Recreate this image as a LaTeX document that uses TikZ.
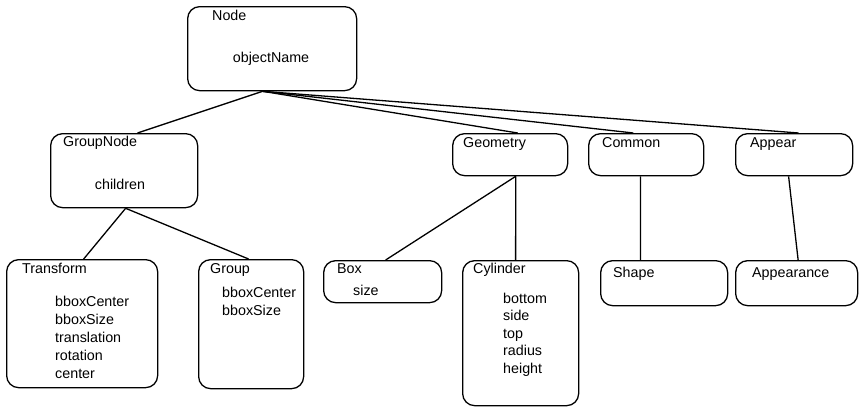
\documentclass[tikz,border=0pt]{standalone}
\usepackage{fontspec}
\setmainfont{Liberation Sans}
\usetikzlibrary{calc}
\tikzset{
  cls/.style={draw, line width=1.3pt, rounded corners=12pt, inner sep=0pt, anchor=north west},
  lbl/.style={inner sep=0pt, anchor=base west, font=\fontsize{14.3}{17}\selectfont},
  clbl/.style={inner sep=0pt, anchor=base, font=\fontsize{14.3}{17}\selectfont},
  link/.style={line width=1.3pt},
}
\begin{document}
\begin{tikzpicture}[x=1pt, y=-1pt]
\fill[white] (0,0) rectangle (859,407);
\useasboundingbox (0,0) rectangle (859,407);

% class boxes: top-left corner, width, height
\node[cls, minimum width=169pt, minimum height=84pt] (node) at (187,6) {};
\node[cls, minimum width=147pt, minimum height=74pt] (groupnode) at (50,133) {};
\node[cls, minimum width=115pt, minimum height=42pt] (geometry) at (452,133) {};
\node[cls, minimum width=115pt, minimum height=42pt] (common) at (588,133) {};
\node[cls, minimum width=117pt, minimum height=42pt] (appear) at (735,133) {};
\node[cls, minimum width=151pt, minimum height=128pt] (transform) at (6,259) {};
\node[cls, minimum width=105pt, minimum height=129pt] (group) at (198,259) {};
\node[cls, minimum width=118pt, minimum height=42pt] (box) at (323,260) {};
\node[cls, minimum width=116pt, minimum height=145pt] (cylinder) at (462,260) {};
\node[cls, minimum width=127pt, minimum height=45pt] (shape) at (600,260) {};
\node[cls, minimum width=122pt, minimum height=45pt] (appearance) at (735,260) {};

% class names
\node[lbl] (node-t) at (212,20) {Node};
\node[clbl] (node-f) at (271,62) {objectName};
\node[lbl] (groupnode-t) at (63,146) {GroupNode};
\node[clbl] (groupnode-f) at (120,189) {children};
\node[lbl] (geometry-t) at (463,147) {Geometry};
\node[lbl] (common-t) at (602,147) {Common};
\node[lbl] (appear-t) at (750,147) {Appear};
\node[lbl] (transform-t) at (22,273) {Transform};
\node[lbl] (group-t) at (210,273) {Group};
\node[lbl] (box-t) at (337,273) {Box};
\node[lbl] (box-f) at (353,295) {size};
\node[lbl] (cylinder-t) at (473,273) {Cylinder};
\node[lbl] (shape-t) at (613,277) {Shape};
\node[lbl] (appearance-t) at (752,277) {Appearance};

% field lists
\foreach \f [count=\i] in {bboxCenter,bboxSize,translation,rotation,center}
  \node[lbl] (transform-f\i) at (55,{306+18.2*(\i-1)}) {\f};
\foreach \f [count=\i] in {bboxCenter,bboxSize}
  \node[lbl] (group-f\i) at (222,{297+18*(\i-1)}) {\f};
\foreach \f [count=\i] in {bottom,side,top,radius,height}
  \node[lbl] (cylinder-f\i) at (503,{303+17.5*(\i-1)}) {\f};

% connectors
\coordinate (node-b) at ($(node.south west)!0.444!(node.south east)$);
\draw[link] (node-b) -- ($(groupnode.north west)!0.59!(groupnode.north east)$);
\draw[link] (node-b) -- ($(geometry.north west)!0.565!(geometry.north east)$);
\draw[link] (node-b) -- ($(common.north west)!0.39!(common.north east)$);
\draw[link] (node-b) -- ($(appear.north west)!0.538!(appear.north east)$);

\coordinate (groupnode-b) at ($(groupnode.south west)!0.51!(groupnode.south east)$);
\draw[link] (groupnode-b) -- ($(transform.north west)!0.51!(transform.north east)$);
\draw[link] (groupnode-b) -- ($(group.north west)!0.476!(group.north east)$);

\coordinate (geometry-b) at ($(geometry.south west)!0.548!(geometry.south east)$);
\draw[link] (geometry-b) -- ($(box.north west)!0.525!(box.north east)$);
\draw[link] (geometry-b) -- ($(cylinder.north west)!0.457!(cylinder.north east)$);

\draw[link] ($(common.south west)!0.452!(common.south east)$) -- ($(shape.north west)!0.315!(shape.north east)$);
\draw[link] ($(appear.south west)!0.453!(appear.south east)$) -- ($(appearance.north west)!0.512!(appearance.north east)$);
\end{tikzpicture}
\end{document}
